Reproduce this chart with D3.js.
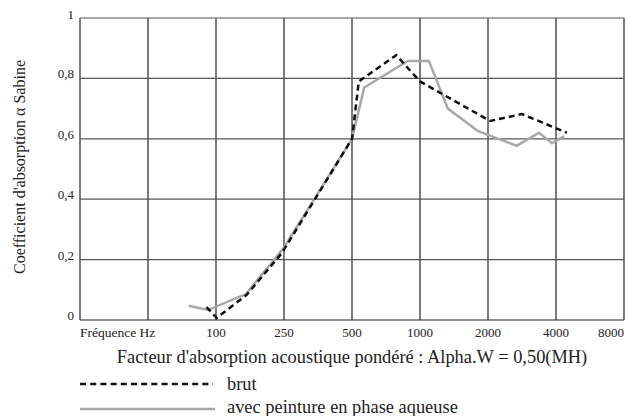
<!DOCTYPE html>
<html>
<head>
<meta charset="utf-8">
<script src="https://cdn.jsdelivr.net/npm/d3@7"></script>
<style>
  body { margin: 0; background: #fff; }
  text { font-family: "Liberation Serif", "Times New Roman", serif; fill: #222; }
</style>
</head>
<body>
<div id="chart"></div>
<script>
// frequency bands (grid columns), position 0 is the left edge
var bandPos = [2, 3, 4, 5, 6, 7, 8];
var bandLabels = ["100", "250", "500", "1000", "2000", "4000", "8000"];
var yTicks = [0, 0.2, 0.4, 0.6, 0.8, 1];

// series: position on the band axis, coefficient
var brutPos = [1.86, 2.01, 2.45, 2.97, 4.0, 4.10, 4.65, 5.0, 6.03, 6.5, 7.16];
var brutVal = [0.043, 0.007, 0.083, 0.222, 0.6, 0.79, 0.877, 0.79, 0.659, 0.682, 0.62];

var peintPos = [1.60, 1.88, 2.44, 3.0, 4.0, 4.18, 4.82, 5.13, 5.41, 5.85, 6.42, 6.75, 6.94, 7.12];
var peintVal = [0.047, 0.033, 0.086, 0.24, 0.6, 0.77, 0.858, 0.858, 0.70, 0.626, 0.577, 0.62, 0.585, 0.609];

var margin = {top: 18, right: 2, bottom: 96, left: 80},
    width = 626 - margin.left - margin.right,
    height = 416 - margin.top - margin.bottom;

var x = d3.scaleLinear().domain([0, 8]).range([0, width]);
var y = d3.scaleLinear().domain([0, 1]).range([height, 0]);

var svg = d3.select("#chart").append("svg")
    .attr("width", 626)
    .attr("height", 416)
  .append("g")
    .attr("transform", "translate(" + margin.left + "," + margin.top + ")");

// grid
svg.append("g")
    .selectAll("line")
    .data(d3.range(0, 9))
    .enter().append("line")
    .attr("x1", function(d) { return x(d); })
    .attr("x2", function(d) { return x(d); })
    .attr("y1", 0)
    .attr("y2", height)
    .attr("stroke", "#222")
    .attr("stroke-width", 1.2);

svg.append("g")
    .selectAll("line")
    .data(yTicks)
    .enter().append("line")
    .attr("x1", 0)
    .attr("x2", width)
    .attr("y1", function(d) { return y(d); })
    .attr("y2", function(d) { return y(d); })
    .attr("stroke", function(d) { return d === 0 ? "#222" : "#555"; })
    .attr("stroke-width", 1.2);

// y tick labels, baseline on the grid line
svg.append("g")
    .selectAll("text")
    .data(yTicks)
    .enter().append("text")
    .attr("x", -6)
    .attr("y", function(d) { return y(d) + (d === 1 ? 1 : 0); })
    .attr("text-anchor", "end")
    .style("font-size", "13px")
    .text(function(d) { return d === 0 ? "0" : d === 1 ? "1" : String(d).replace(".", ","); });

// x tick labels (the last one sits against the right edge)
svg.append("g")
    .selectAll("text")
    .data(bandPos)
    .enter().append("text")
    .attr("x", function(d) { return x(d); })
    .attr("y", height + 17)
    .attr("text-anchor", function(d, i) { return i === bandPos.length - 1 ? "end" : "middle"; })
    .style("font-size", "13px")
    .text(function(d, i) { return bandLabels[i]; });

svg.append("text")
    .attr("x", 0)
    .attr("y", height + 17)
    .style("font-size", "13.5px")
    .text("Fréquence Hz");

// lines
var brut = brutPos.map(function(p, i) { return [p, brutVal[i]]; });
var peint = peintPos.map(function(p, i) { return [p, peintVal[i]]; });

var line = d3.line()
    .x(function(d) { return x(d[0]); })
    .y(function(d) { return y(d[1]); });

svg.append("path")
    .datum(peint)
    .attr("fill", "none")
    .attr("stroke", "#a8a8a8")
    .attr("stroke-width", 2.5)
    .attr("d", line);

svg.append("path")
    .datum(brut)
    .attr("fill", "none")
    .attr("stroke", "#111")
    .attr("stroke-width", 2.5)
    .attr("stroke-dasharray", "6,4")
    .attr("d", line);

// axis titles
svg.append("text")
    .attr("transform", "rotate(-90)")
    .attr("x", -height / 2 + 2)
    .attr("y", -55)
    .attr("text-anchor", "middle")
    .style("font-size", "16px")
    .text("Coefficient d'absorption α Sabine");

svg.append("text")
    .attr("x", 272)
    .attr("y", height + 43)
    .attr("text-anchor", "middle")
    .style("font-size", "18.4px")
    .text("Facteur d'absorption acoustique pondéré : Alpha.W = 0,50(MH)");

// legend
var legend = svg.append("g")
    .attr("transform", "translate(0," + (height + 64) + ")");

legend.append("line")
    .attr("x1", 0).attr("x2", 133)
    .attr("y1", 0).attr("y2", 0)
    .attr("stroke", "#111")
    .attr("stroke-width", 2.5)
    .attr("stroke-dasharray", "6,4.2");

legend.append("text")
    .attr("x", 147).attr("y", 6)
    .style("font-size", "18.4px")
    .text("brut");

legend.append("line")
    .attr("x1", 0).attr("x2", 135)
    .attr("y1", 25).attr("y2", 25)
    .attr("stroke", "#a8a8a8")
    .attr("stroke-width", 2.5);

legend.append("text")
    .attr("x", 147).attr("y", 29)
    .style("font-size", "18.4px")
    .text("avec peinture en phase aqueuse");
</script>
</body>
</html>
